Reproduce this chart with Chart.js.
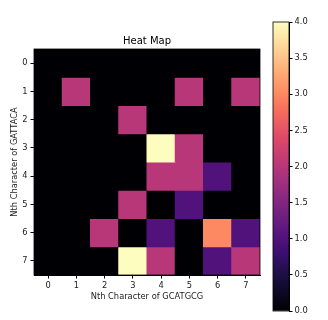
<!DOCTYPE html>
<html>
<head>
<meta charset="utf-8">
<script src="https://cdn.jsdelivr.net/npm/chart.js@4.4.1/dist/chart.umd.min.js"></script>
<style>
html, body { margin: 0; padding: 0; background: #fff; }
#wrap { position: relative; width: 328px; height: 320px; }
#heat { position: absolute; left: 0; top: 0; }
#cbar { position: absolute; left: 250px; top: 0; }
</style>
</head>
<body>
<div id="wrap">
  <canvas id="heat" width="328" height="320"></canvas>
  <canvas id="cbar" width="78" height="320"></canvas>
</div>
<script>
// rows = Nth character of GATTACA, columns = Nth character of GCATGCG
const rowLabels = ['0', '1', '2', '3', '4', '5', '6', '7'];
const colLabels = ['0', '1', '2', '3', '4', '5', '6', '7'];
const heat = [
    [0, 0, 0, 0, 0, 0, 0, 0],
    [0, 2, 0, 0, 0, 2, 0, 2],
    [0, 0, 0, 2, 0, 0, 0, 0],
    [0, 0, 0, 0, 4, 2, 0, 0],
    [0, 0, 0, 0, 2, 2, 1, 0],
    [0, 0, 0, 2, 0, 1, 0, 0],
    [0, 0, 2, 0, 1, 0, 3, 1],
    [0, 0, 0, 4, 2, 0, 1, 2]
];
const cbarMin = 0;
const cbarMax = 4;
const cbarStep = 0.5;

const magmaStops = [
    [0, '#000004'], [0.1, '#140e36'], [0.2, '#3b0f70'], [0.25, '#51127c'],
    [0.3, '#641a80'], [0.4, '#8c2981'], [0.5, '#b73779'], [0.6, '#de4968'],
    [0.7, '#f7705c'], [0.75, '#fc8961'], [0.8, '#fe9f6d'], [0.9, '#fecf92'],
    [1, '#fcfdbf']
];

function hexRgb(h) {
    return [1, 3, 5].map(i => parseInt(h.substr(i, 2), 16));
}

function magma(t) {
    t = Math.max(0, Math.min(1, t));
    for (let i = 1; i < magmaStops.length; i++) {
        const [t1, c1] = magmaStops[i];
        if (t <= t1) {
            const [t0, c0] = magmaStops[i - 1];
            const f = (t - t0) / (t1 - t0);
            const a = hexRgb(c0), b = hexRgb(c1);
            const c = a.map((v, k) => Math.round(v + (b[k] - v) * f));
            return 'rgb(' + c.join(',') + ')';
        }
    }
    return magmaStops[magmaStops.length - 1][1];
}

Chart.defaults.font.family = 'DejaVu Sans';
Chart.defaults.font.size = 8.3;
Chart.defaults.color = '#222';

// box around the plot area plus the title over its centre
const frame = {
    id: 'frame',
    afterDraw(chart, args, opts) {
        const { ctx, chartArea: a } = chart;
        ctx.save();
        ctx.strokeStyle = '#000';
        ctx.lineWidth = 0.8;
        ctx.strokeRect(a.left, a.top, a.right - a.left, a.bottom - a.top);
        if (opts.text) {
            ctx.fillStyle = '#000';
            ctx.font = '10px "DejaVu Sans"';
            ctx.textAlign = 'center';
            ctx.textBaseline = 'bottom';
            ctx.fillText(opts.text, (a.left + a.right) / 2, a.top - 3);
        }
        ctx.restore();
    }
};

const datasets = heat.map((row, r) => ({
    label: rowLabels[r],
    data: row.map(() => [r - 0.5, r + 0.5]),
    backgroundColor: row.map(v => magma(v / cbarMax)),
    borderWidth: 0,
    inflateAmount: 0.5,
    grouped: false,
    barPercentage: 1,
    categoryPercentage: 1
}));

new Chart(document.getElementById('heat'), {
    type: 'bar',
    data: { labels: colLabels, datasets: datasets },
    plugins: [frame],
    options: {
        responsive: false,
        animation: false,
        layout: { padding: { left: 0, top: 49, right: 68, bottom: 14 } },
        plugins: {
            legend: { display: false },
            tooltip: { enabled: false },
            frame: { text: 'Heat Map' }
        },
        scales: {
            x: {
                grid: { offset: false, drawOnChartArea: false, tickLength: 3.5, color: '#000' },
                border: { display: true, color: '#000' },
                ticks: { padding: 2 },
                title: { display: true, text: 'Nth Character of GCATGCG', padding: { top: 1 } },
                afterFit: s => { s.height = 31; }
            },
            y: {
                type: 'linear',
                reverse: true,
                min: -0.5,
                max: rowLabels.length - 0.5,
                afterBuildTicks: s => { s.ticks = rowLabels.map((_, i) => ({ value: i })); },
                ticks: { callback: v => rowLabels[v], padding: 3 },
                grid: { drawOnChartArea: false, tickLength: 3.5, color: '#000' },
                border: { display: true, color: '#000' },
                title: { display: true, text: 'Nth Character of GATTACA', padding: { top: 10 } },
                afterFit: s => { s.width = 34; }
            }
        }
    }
});

new Chart(document.getElementById('cbar'), {
    type: 'bar',
    data: {
        labels: [''],
        datasets: [{
            data: [[cbarMin, cbarMax]],
            backgroundColor: (context) => {
                const chart = context.chart;
                const a = chart.chartArea;
                if (!a) return null;
                const g = chart.ctx.createLinearGradient(0, a.bottom, 0, a.top);
                magmaStops.forEach(([t, c]) => g.addColorStop(t, c));
                return g;
            },
            borderWidth: 0,
            barPercentage: 1,
            categoryPercentage: 1
        }]
    },
    plugins: [frame],
    options: {
        responsive: false,
        animation: false,
        layout: { padding: { left: 23, top: 22, right: 0, bottom: 9 } },
        plugins: {
            legend: { display: false },
            tooltip: { enabled: false },
            frame: { text: '' }
        },
        scales: {
            x: { display: false },
            y: {
                position: 'right',
                min: cbarMin,
                max: cbarMax,
                ticks: { stepSize: cbarStep, callback: v => v.toFixed(1), padding: 2 },
                grid: { drawOnChartArea: false, tickLength: 3.5, color: '#000' },
                border: { display: true, color: '#000' },
                afterFit: s => { s.width = 39; }
            }
        }
    }
});
</script>
</body>
</html>
